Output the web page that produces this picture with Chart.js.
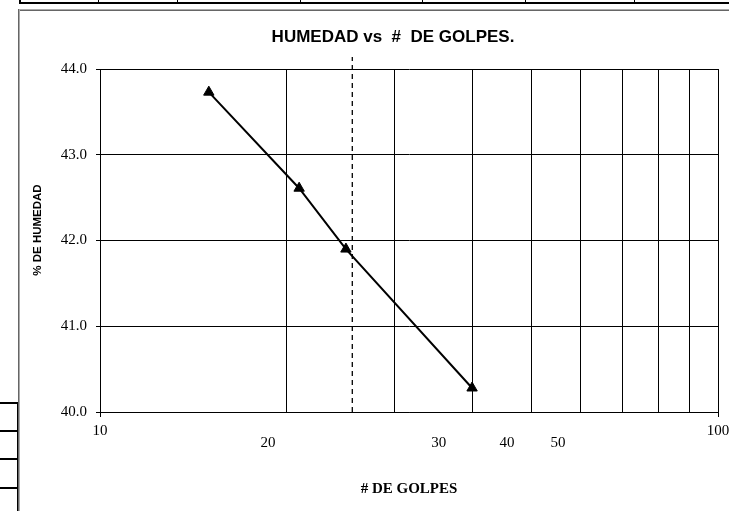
<!DOCTYPE html>
<html>
<head>
<meta charset="utf-8">
<script src="https://cdn.jsdelivr.net/npm/chart.js@4.4.1/dist/chart.umd.min.js"></script>
<style>
  html, body { margin: 0; padding: 0; background: #ffffff; }
  #wrap { position: relative; width: 729px; height: 511px; overflow: hidden; background: #fff; }
  #c { position: absolute; left: 0; top: 0; }
  .ln { position: absolute; pointer-events: none; }
  #title { position: absolute; left: 193px; width: 400px; top: 27px; height: 22px; line-height: 22px;
           text-align: center; font: bold 17px "Liberation Sans", Arial, sans-serif; color: #000;
           white-space: pre; }
  #ytitle { position: absolute; left: -22px; top: 223px; width: 120px; height: 14px; line-height: 14px;
            text-align: center; font: bold 11.5px "Liberation Sans", Arial, sans-serif; color: #000;
            transform: rotate(-90deg); transform-origin: 60px 7px; white-space: pre; }
</style>
</head>
<body>
<div id="wrap">
  <canvas id="c" width="729" height="511"></canvas>
  <div id="title"></div>
  <div id="ytitle"></div>
  <!-- spreadsheet table borders around the chart -->
  <div class="ln" style="left:19px;top:2px;width:710px;height:2px;background:#000"></div>
  <div class="ln" style="left:19px;top:0;width:2px;height:4px;background:#000"></div>
  <div class="ln" style="left:98px;top:0;width:1px;height:4px;background:#000"></div>
  <div class="ln" style="left:177px;top:0;width:1px;height:4px;background:#000"></div>
  <div class="ln" style="left:300px;top:0;width:1px;height:4px;background:#000"></div>
  <div class="ln" style="left:422px;top:0;width:1px;height:4px;background:#000"></div>
  <div class="ln" style="left:525px;top:0;width:1px;height:4px;background:#000"></div>
  <div class="ln" style="left:634px;top:0;width:1px;height:4px;background:#000"></div>
  <div class="ln" style="left:0;top:402px;width:18px;height:2px;background:#000"></div>
  <div class="ln" style="left:0;top:430px;width:18px;height:2px;background:#000"></div>
  <div class="ln" style="left:0;top:458px;width:18px;height:2px;background:#000"></div>
  <div class="ln" style="left:0;top:487px;width:18px;height:2px;background:#000"></div>
  <div class="ln" style="left:17px;top:402px;width:1px;height:109px;background:#000"></div>
  <!-- chart frame -->
  <div class="ln" style="left:18px;top:9px;width:711px;height:1px;background:#aaa"></div>
  <div class="ln" style="left:18px;top:10px;width:711px;height:1px;background:#666"></div>
  <div class="ln" style="left:18px;top:9px;width:1px;height:502px;background:#666"></div>
  <div class="ln" style="left:19px;top:10px;width:1px;height:501px;background:#aaa"></div>
</div>
<script>
// ---- data ----
const chartTitle = 'HUMEDAD vs  #  DE GOLPES.';
const yTitle = '% DE HUMEDAD';
const xTitle = '# DE GOLPES';
const golpes = [15, 21, 25, 40];
const humedad = [43.73, 42.61, 41.90, 40.28];
const refGolpes = [25.6, 25.6];
const refHumedad = [40.0, 44.14];
const yTicks = [40, 41, 42, 43, 44];
const xGrid = [10, 20, 30, 40, 50, 60, 70, 80, 90, 100];
const xTickLabels = [10, 100];
const xExtraLabels = ['20', '30', '40', '50'];

document.getElementById('title').textContent = chartTitle;
document.getElementById('ytitle').textContent = yTitle;

const serif = '"Liberation Serif", "Times New Roman", serif';
const sans = '"Liberation Sans", Arial, sans-serif';

const extraLabelPlugin = {
  id: 'extraLabels',
  afterDraw(chart, args, opts) {
    const ctx = chart.ctx;
    const xs = chart.scales.x;
    ctx.save();
    ctx.font = '15px ' + serif;
    ctx.fillStyle = '#000';
    ctx.textAlign = 'center';
    ctx.textBaseline = 'middle';
    xExtraLabels.forEach((lab, i) => {
      const px = xs.getPixelForValue(Number(lab)) + opts.dx[i];
      ctx.fillText(lab, px, chart.chartArea.bottom + opts.dy);
    });
    ctx.restore();
  }
};

new Chart(document.getElementById('c'), {
  type: 'scatter',
  data: {
    datasets: [
      {
        data: golpes.map((g, i) => ({ x: g, y: humedad[i] })),
        showLine: true,
        borderColor: '#000',
        backgroundColor: '#000',
        borderWidth: 2,
        pointStyle: 'triangle',
        pointRadius: 6,
        pointBorderWidth: 1,
        pointBackgroundColor: '#000',
        pointBorderColor: '#000',
        tension: 0
      },
      {
        data: refGolpes.map((g, i) => ({ x: g, y: refHumedad[i] })),
        showLine: true,
        borderColor: '#000',
        borderWidth: 1.3,
        borderDash: [5, 4],
        pointRadius: 0,
        clip: false
      }
    ]
  },
  options: {
    responsive: false,
    animation: false,
    devicePixelRatio: 1,
    layout: { padding: { left: 20, right: 11, top: 69, bottom: 0 } },
    plugins: {
      legend: { display: false },
      tooltip: { enabled: false },
      title: { display: false },
      extraLabels: { dx: [-18, 44, 35, 26], dy: 31 }
    },
    scales: {
      x: {
        type: 'logarithmic',
        min: 10,
        max: 100,
        afterBuildTicks(scale) { scale.ticks = xGrid.map(v => ({ value: v, major: xTickLabels.includes(v) })); },
        afterFit(scale) { scale.height = 99; scale.paddingLeft = 0; scale.paddingRight = 0; },
        border: { color: '#000', width: 1 },
        grid: {
          color: '#000',
          lineWidth: 1,
          drawTicks: true,
          tickLength: 5,
          tickColor: (c) => (c.tick && xTickLabels.includes(c.tick.value)) ? '#000' : 'rgba(0,0,0,0)'
        },
        ticks: {
          autoSkip: false,
          maxRotation: 0,
          padding: 5,
          color: '#000',
          font: { family: serif, size: 15 },
          callback: (v) => xTickLabels.includes(v) ? String(v) : ''
        },
        title: {
          display: true,
          text: xTitle,
          color: '#000',
          font: { family: serif, size: 15, weight: 'bold', lineHeight: 1.2 },
          padding: { top: 0, bottom: 13 }
        }
      },
      y: {
        min: 40,
        max: 44,
        afterFit(scale) { scale.width = 80; scale.paddingTop = 0; scale.paddingBottom = 0; },
        afterBuildTicks(scale) { scale.ticks = yTicks.map(v => ({ value: v })); },
        border: { color: '#000', width: 1 },
        grid: { color: '#000', lineWidth: 1, tickLength: 4, tickColor: '#000' },
        ticks: {
          padding: 9,
          color: '#000',
          font: { family: serif, size: 15 },
          callback: (v) => Number(v).toFixed(1)
        },
        title: { display: false }
      }
    }
  },
  plugins: [extraLabelPlugin]
});
</script>
</body>
</html>
